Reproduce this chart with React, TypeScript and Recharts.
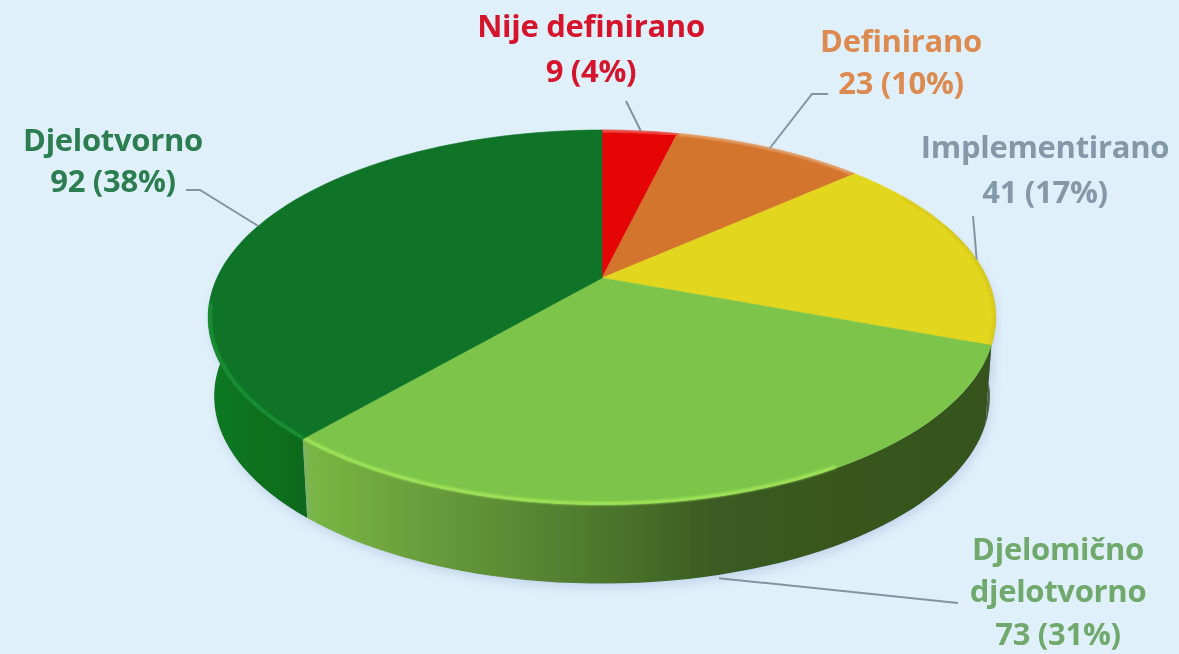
import React from "react";
import { PieChart, Pie } from "recharts";

const categories = ["Nije definirano", "Definirano", "Implementirano", "Djelomično djelotvorno", "Djelotvorno"];
const values = [9, 23, 41, 73, 92];
const percentLabels = ["4%", "10%", "17%", "31%", "38%"];
const data = categories.map((name, i) => ({ name, value: values[i], percentLabel: percentLabels[i] }));

const topColors = ["#e60505", "#d3752d", "#e3d61e", "#7dc54a", "#0f7427"];
const wallFills = ["#8f0000", "#7d4518", "#34531d", "url(#wallLight)", "url(#wallDark)"];
const rimColors = ["#f3c9b8", "#efc39c", "#c9ba1c", "#a4e858", "#1f9a38"];
const rimRanges = [
  [0, 14],
  [14, 48],
  [60, 110],
  [150, 221],
  [221, 262],
];
const rimWidths = [1.2, 1.5, 1.2, 3, 2.5];
const textColors = ["#d5142c", "#dc8a50", "#8598a8", "#6fa96c", "#2c7d50"];

const labelLines = [
  ["Nije definirano", "9 (4%)"],
  ["Definirano", "23 (10%)"],
  ["Implementirano", "41 (17%)"],
  ["Djelomično", "djelotvorno", "73 (31%)"],
  ["Djelotvorno", "92 (38%)"],
];
const labelCenters = [591, 901, 1045, 1058, 113];
const labelBaselines = [
  [37, 82],
  [52, 94],
  [158, 203],
  [560, 602, 645],
  [151, 192],
];
const leaderRimTheta = [7, 31, 84, 166, 288];
const leaderOnBase = [false, false, false, true, false];
const leaderOuter: number[][][] = [
  [[626, 101]],
  [[812, 94], [828, 94]],
  [[973, 216]],
  [[958, 603]],
  [[200, 190], [186, 190]],
];

const W = 1179;
const H = 654;
const CX = 602;
const CY = 278;
const RX = 385;
const RY_RATIO = 0.465;
const TILT = 0.21;
const DEPTH = 79;
const BASE_SHRINK = 0.985;
const FONT = "'Open Sans', sans-serif";

const project = (cx: number, cy: number, r: number, thetaDeg: number) => {
  const t = (thetaDeg * Math.PI) / 180;
  const x = Math.sin(t);
  const y = Math.cos(t);
  const d = 1 + TILT * y;
  return { x: cx + (r * x) / d, y: cy - (r * RY_RATIO * y) / d };
};

const rimPoints = (cx: number, cy: number, r: number, from: number, to: number) => {
  const n = Math.max(2, Math.ceil(Math.abs(to - from) / 2));
  const pts = [];
  for (let i = 0; i <= n; i++) pts.push(project(cx, cy, r, from + ((to - from) * i) / n));
  return pts;
};

const toPath = (pts: { x: number; y: number }[]) =>
  pts.map((p, i) => `${i ? "L" : "M"}${p.x.toFixed(1)},${p.y.toFixed(1)}`).join(" ");

const thetas = (p: any) => [90 - p.startAngle, 90 - p.endAngle];

const TopSlice = (p: any) => {
  const [a, b] = thetas(p);
  const rim = rimPoints(p.cx, p.cy, p.outerRadius, a, b);
  const d = `M${p.cx},${p.cy} ${toPath(rim).replace("M", "L")} Z`;
  const [rimFrom, rimTo] = rimRanges[p.index];
  const inner = rimPoints(p.cx, p.cy, p.outerRadius * 0.995, Math.max(a, rimFrom), Math.min(b, rimTo));
  return (
    <g>
      <path d={d} fill={topColors[p.index]} stroke={topColors[p.index]} strokeWidth={0.6} />
      <path d={toPath(inner)} fill="none" stroke={rimColors[p.index]} strokeWidth={rimWidths[p.index]} filter="url(#soft)" />
    </g>
  );
};

const WallSlice = (p: any) => {
  const [a, b] = thetas(p);
  const from = Math.max(a, 72);
  const to = Math.min(b, 288);
  if (to <= from) return <g />;
  const top = rimPoints(p.cx, p.cy, p.outerRadius, from, to);
  const base = top
    .map((q) => ({ x: p.cx + (q.x - p.cx) * BASE_SHRINK, y: q.y + DEPTH }))
    .reverse();
  return <path d={`${toPath(top)} ${toPath(base).replace("M", "L")} Z`} fill={wallFills[p.index]} filter="url(#wallShadow)" />;
};

const SliceLabel = (p: any) => {
  const i = p.index;
  const rim = project(CX, CY, RX, leaderRimTheta[i]);
  const start = leaderOnBase[i] ? { x: rim.x, y: rim.y + DEPTH + 3 } : rim;
  const pts = [start, ...leaderOuter[i].map(([x, y]) => ({ x, y }))];
  return (
    <g>
      <path d={toPath(pts)} fill="none" stroke="#8592a2" strokeWidth={2} />
      {labelLines[i].map((line, j) => (
        <text
          key={line}
          x={labelCenters[i]}
          y={labelBaselines[i][j]}
          textAnchor="middle"
          fontFamily={FONT}
          fontWeight={700}
          fontSize={31}
          letterSpacing={-0.3}
          fill={textColors[i]}
        >
          {line}
        </text>
      ))}
    </g>
  );
};

export default function App() {
  return (
    <div style={{ position: "absolute", left: 0, top: 0, width: W, height: H, background: "#e0f0fb", overflow: "hidden" }}>
      <div style={{ filter: "blur(0.7px)", width: W, height: H }}>
        <PieChart width={W} height={H} margin={{ top: 0, right: 0, bottom: 0, left: 0 }}>
          <defs>
            <linearGradient id="wallLight" gradientUnits="userSpaceOnUse" x1={308} x2={990} y1={0} y2={0}>
              <stop offset="0" stopColor="#7ab744" />
              <stop offset="0.2" stopColor="#66993a" />
              <stop offset="0.4" stopColor="#507c2f" />
              <stop offset="0.6" stopColor="#3a5b20" />
              <stop offset="1" stopColor="#34531d" />
            </linearGradient>
            <linearGradient id="wallDark" gradientUnits="userSpaceOnUse" x1={207} x2={312} y1={0} y2={0}>
              <stop offset="0" stopColor="#0d7a22" />
              <stop offset="1" stopColor="#0b691c" />
            </linearGradient>
            <filter id="soft" x="-10%" y="-10%" width="120%" height="120%">
              <feGaussianBlur stdDeviation="0.8" />
            </filter>
            <filter id="wallShadow" x="-10%" y="-10%" width="120%" height="130%">
              <feDropShadow dx="2" dy="5" stdDeviation="5" floodColor="#8fa0c8" floodOpacity="0.3" />
            </filter>
          </defs>
          <Pie
            data={data}
            dataKey="value"
            nameKey="name"
            cx={CX}
            cy={CY}
            outerRadius={RX}
            startAngle={90}
            endAngle={-270}
            stroke="none"
            shape={WallSlice}
            isAnimationActive={false}
            label={false}
            labelLine={false}
          />
          <Pie
            data={data}
            dataKey="value"
            nameKey="name"
            cx={CX}
            cy={CY}
            outerRadius={RX}
            startAngle={90}
            endAngle={-270}
            stroke="none"
            shape={TopSlice}
            isAnimationActive={false}
            label={SliceLabel}
            labelLine={false}
          />
        </PieChart>
      </div>
    </div>
  );
}
